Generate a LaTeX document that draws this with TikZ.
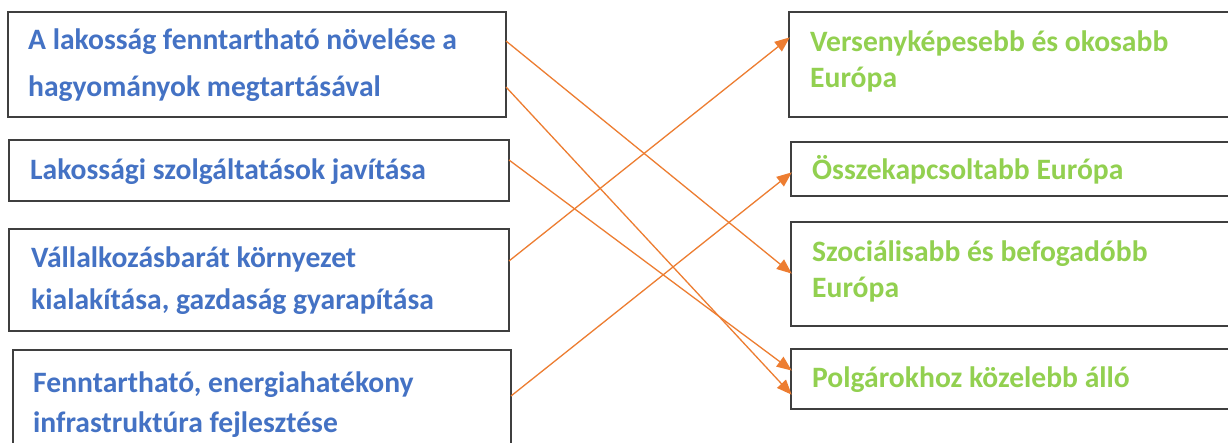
\documentclass[tikz,border=0pt]{standalone}
\usepackage{fontspec}
\setmainfont{Carlito}
\usetikzlibrary{arrows.meta}
\definecolor{txtblue}{HTML}{4472C4}
\definecolor{txtgreen}{HTML}{92D050}
\definecolor{arrorange}{HTML}{ED7D31}
\definecolor{boxline}{HTML}{3F3F3F}
\tikzset{
  box/.style={draw=boxline, line width=1.8pt, rectangle, inner sep=0pt, outer sep=0pt, anchor=north west, fill=white},
  ltext/.style={anchor=base west, inner sep=0pt, text=txtblue, font=\fontsize{29.6}{34}\selectfont\bfseries},
  rtext/.style={anchor=base west, inner sep=0pt, text=txtgreen, font=\fontsize{29.6}{34}\selectfont\bfseries},
  arr/.style={draw=arrorange, line width=1.3pt, -{Triangle[length=15pt, width=12pt]}, shorten >=-1pt}
}
\begin{document}
\begin{tikzpicture}[x=1pt, y=-1pt]
\clip (0,0) rectangle (1228,443);
\fill[white] (0,0) rectangle (1228,443);
% left boxes
\node[box, minimum width=498pt, minimum height=105pt] (l1) at (8,12) {};
\node[box, minimum width=500pt, minimum height=61pt] (l2) at (9,140) {};
\node[box, minimum width=500pt, minimum height=102pt] (l3) at (9,229) {};
\node[box, minimum width=498pt, minimum height=120pt] (l4) at (13,350) {};
% right boxes
\node[box, minimum width=460pt, minimum height=105pt] (r1) at (789,12) {};
\node[box, minimum width=460pt, minimum height=54pt] (r2) at (791,142) {};
\node[box, minimum width=460pt, minimum height=104pt] (r3) at (791,222) {};
\node[box, minimum width=460pt, minimum height=60pt] (r4) at (791,349) {};
% left texts
\node[ltext] (t1a) at (28,50) {A lakosság fenntartható növelése a};
\node[ltext] (t1b) at (28,97) {hagyományok megtartásával};
\node[ltext] (t2a) at (30,180) {Lakossági szolgáltatások javítása};
\node[ltext] (t3a) at (31,268) {Vállalkozásbarát környezet};
\node[ltext] (t3b) at (31,310) {kialakítása, gazdaság gyarapítása};
\node[ltext] (t4a) at (33,392) {Fenntartható, energiahatékony};
\node[ltext] (t4b) at (33,432) {infrastruktúra fejlesztése};
% right texts
\node[rtext] (s1a) at (810,52) {Versenyképesebb és okosabb};
\node[rtext] (s1b) at (810,88) {Európa};
\node[rtext] (s2a) at (812,180) {Összekapcsoltabb Európa};
\node[rtext] (s3a) at (812,262) {Szociálisabb és befogadóbb};
\node[rtext] (s3b) at (812,298) {Európa};
\node[rtext] (s4a) at (812,387) {Polgárokhoz közelebb álló};
% connectors
\draw[arr] ([yshift=-29pt]l1.north east) -- ([yshift=-51pt]r3.north west);
\draw[arr] ([yshift=-75pt]l1.north east) -- ([yshift=-45pt]r4.north west);
\draw[arr] ([yshift=-20pt]l2.north east) -- ([yshift=-21pt]r4.north west);
\draw[arr] ([yshift=-32pt]l3.north east) -- ([yshift=-26pt]r1.north west);
\draw[arr] ([yshift=-46pt]l4.north east) -- ([yshift=-31pt]r2.north west);
\end{tikzpicture}
\end{document}
